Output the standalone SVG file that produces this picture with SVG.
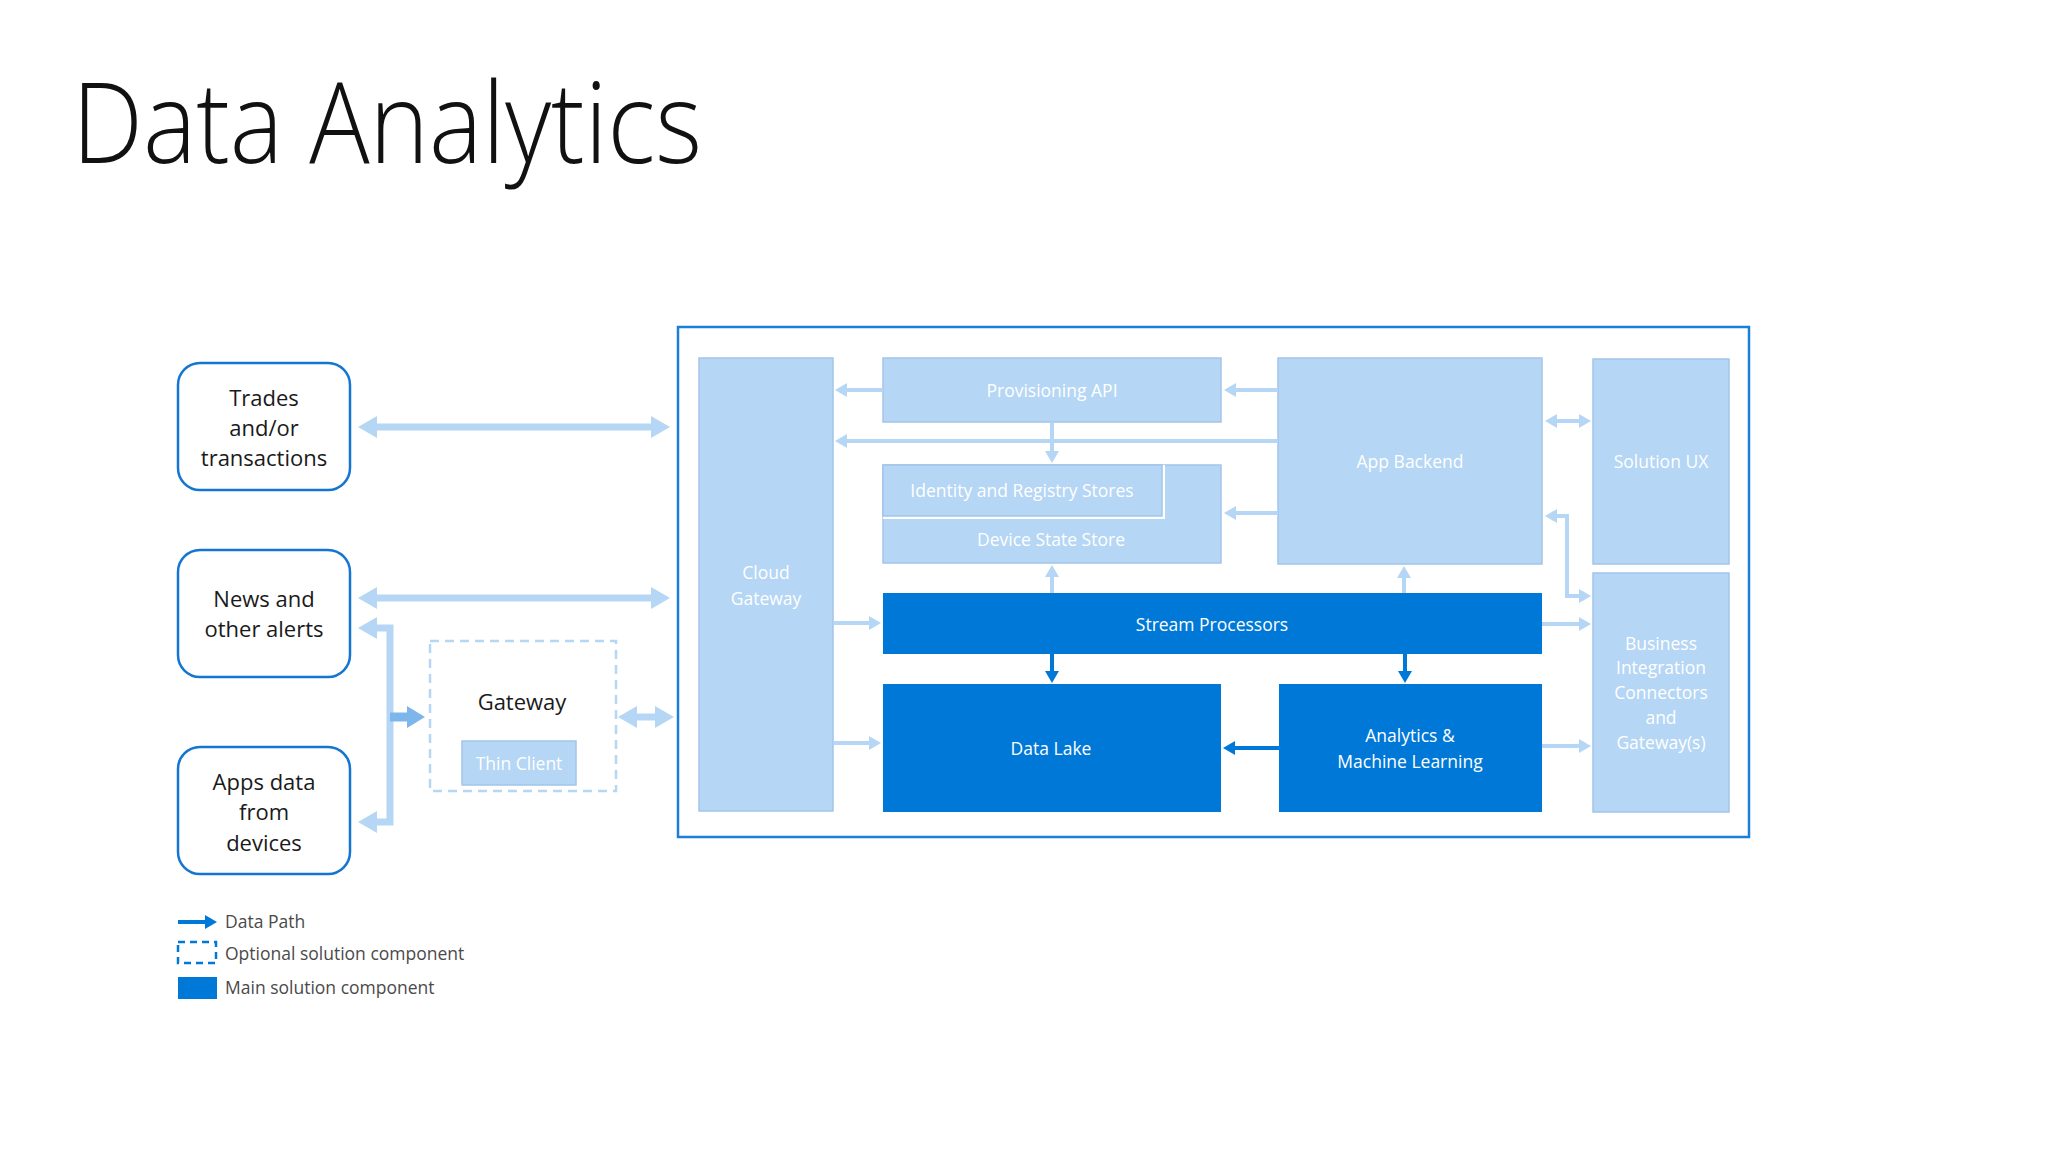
<svg xmlns="http://www.w3.org/2000/svg" width="2048" height="1152" viewBox="0 0 2048 1152">
<defs>
<style>
.bg{fill:#ffffff}
.title{font-family:"Open Sans","Noto Sans",sans-serif;font-weight:300;font-size:112px;fill:#111111}
.src{fill:#ffffff;stroke:#1476d2;stroke-width:2.5}
.srct{font-family:"Open Sans","Noto Sans",sans-serif;font-size:22px;fill:#1a1a1a;text-anchor:middle;dominant-baseline:central}
.lb{fill:#b5d6f4;stroke:#a3c5ea;stroke-width:1.5}
.db{fill:#0078d7}
.wt{font-family:"Open Sans","Noto Sans",sans-serif;font-size:17.5px;fill:#ffffff;text-anchor:middle;dominant-baseline:central}
.cont{fill:none;stroke:#1b7fd5;stroke-width:2.5}
.opt{fill:none;stroke:#b5d6f4;stroke-width:2.5;stroke-dasharray:9 6}
.bigl{fill:none;stroke:#b5d6f4;stroke-width:7}
.sl{fill:none;stroke:#b5d6f4;stroke-width:4}
.dl{fill:none;stroke:#0078d7;stroke-width:4}
.leg{font-family:"Open Sans","Noto Sans",sans-serif;font-size:17.5px;fill:#4a4a4a}
</style>
<marker id="hb" markerUnits="userSpaceOnUse" markerWidth="20" markerHeight="22" refX="0" refY="11" orient="auto-start-reverse" overflow="visible"><path d="M0,0 L19,11 L0,22 z" fill="#b5d6f4"/></marker>
<marker id="hg" markerUnits="userSpaceOnUse" markerWidth="20" markerHeight="22" refX="0" refY="11" orient="auto-start-reverse" overflow="visible"><path d="M0,0 L18,11 L0,22 z" fill="#7db6ea"/></marker>
<marker id="hs" markerUnits="userSpaceOnUse" markerWidth="13" markerHeight="14" refX="0" refY="7" orient="auto-start-reverse" overflow="visible"><path d="M0,0 L12,7 L0,14 z" fill="#b5d6f4"/></marker>
<marker id="hd" markerUnits="userSpaceOnUse" markerWidth="13" markerHeight="14" refX="0" refY="7" orient="auto-start-reverse" overflow="visible"><path d="M0,0 L12,7 L0,14 z" fill="#0078d7"/></marker>
</defs>
<rect class="bg" x="0" y="0" width="2048" height="1152"/>
<text class="title" x="72" y="163" textLength="630" lengthAdjust="spacingAndGlyphs">Data Analytics</text>

<g id="container"><rect class="cont" x="678" y="327" width="1071" height="510"/></g>

<g id="trades"><rect class="src" x="178" y="363" width="172" height="127" rx="22"/>
<text class="srct" x="264" y="397">Trades</text><text class="srct" x="264" y="427">and/or</text><text class="srct" x="264" y="457">transactions</text></g>
<g id="news"><rect class="src" x="178" y="550" width="172" height="127" rx="22"/>
<text class="srct" x="264" y="598">News and</text><text class="srct" x="264" y="628">other alerts</text></g>
<g id="apps"><rect class="src" x="178" y="747" width="172" height="127" rx="22"/>
<text class="srct" x="264" y="781">Apps data</text><text class="srct" x="264" y="811">from</text><text class="srct" x="264" y="842">devices</text></g>

<g id="gateway"><rect class="opt" x="430" y="641" width="186" height="150"/>
<text class="srct" x="522" y="701">Gateway</text></g>
<g id="thin-client"><rect class="lb" x="462" y="741" width="114" height="44"/>
<text class="wt" x="519" y="763">Thin Client</text></g>

<g id="cloud-gateway"><rect class="lb" x="699" y="358" width="134" height="453"/>
<text class="wt" x="766" y="572">Cloud</text><text class="wt" x="766" y="598">Gateway</text></g>
<g id="provisioning-api"><rect class="lb" x="883" y="358" width="338" height="64"/>
<text class="wt" x="1052" y="390">Provisioning API</text></g>
<g id="device-state-store"><rect class="lb" x="883" y="465" width="338" height="98"/>
<text class="wt" x="1051" y="539">Device State Store</text></g>
<g id="identity-registry"><rect x="883" y="465" width="282" height="54" fill="#ffffff"/>
<rect class="lb" x="883" y="465" width="279" height="51"/>
<text class="wt" x="1022" y="490">Identity and Registry Stores</text></g>
<g id="app-backend"><rect class="lb" x="1278" y="358" width="264" height="206"/>
<text class="wt" x="1410" y="461">App Backend</text></g>
<g id="solution-ux"><rect class="lb" x="1593" y="359" width="136" height="205"/>
<text class="wt" x="1661" y="461">Solution UX</text></g>
<g id="business-integration"><rect class="lb" x="1593" y="573" width="136" height="239"/>
<text class="wt" x="1661" y="643">Business</text><text class="wt" x="1661" y="667">Integration</text><text class="wt" x="1661" y="692">Connectors</text><text class="wt" x="1661" y="717">and</text><text class="wt" x="1661" y="742">Gateway(s)</text></g>
<g id="stream-processors"><rect class="db" x="883" y="593" width="659" height="61"/>
<text class="wt" x="1212" y="624">Stream Processors</text></g>
<g id="data-lake"><rect class="db" x="883" y="684" width="338" height="128"/>
<text class="wt" x="1051" y="748">Data Lake</text></g>
<g id="analytics-ml"><rect class="db" x="1279" y="684" width="263" height="128"/>
<text class="wt" x="1410" y="735">Analytics &amp;</text><text class="wt" x="1410" y="761">Machine Learning</text></g>

<g id="connectors">
<line class="bigl" x1="377" y1="427" x2="651" y2="427" marker-start="url(#hb)" marker-end="url(#hb)"/>
<line class="bigl" x1="377" y1="598" x2="651" y2="598" marker-start="url(#hb)" marker-end="url(#hb)"/>
<path class="bigl" d="M377,628 H390 V822 H377" marker-start="url(#hb)" marker-end="url(#hb)"/>
<line x1="390" y1="717" x2="407" y2="717" stroke="#7db6ea" stroke-width="9" marker-end="url(#hg)"/>
<line class="bigl" x1="637" y1="717" x2="655" y2="717" marker-start="url(#hb)" marker-end="url(#hb)"/>

<line class="sl" x1="883" y1="390" x2="847" y2="390" marker-end="url(#hs)"/>
<line class="sl" x1="1278" y1="390" x2="1236" y2="390" marker-end="url(#hs)"/>
<line class="sl" x1="1278" y1="441" x2="847" y2="441" marker-end="url(#hs)"/>
<line class="sl" x1="1052" y1="422" x2="1052" y2="451" marker-end="url(#hs)"/>
<line class="sl" x1="1278" y1="513" x2="1236" y2="513" marker-end="url(#hs)"/>
<line class="sl" x1="1052" y1="593" x2="1052" y2="577" marker-end="url(#hs)"/>
<line class="sl" x1="1404" y1="593" x2="1404" y2="578" marker-end="url(#hs)"/>
<line class="sl" x1="833" y1="623" x2="869" y2="623" marker-end="url(#hs)"/>
<line class="sl" x1="833" y1="743" x2="869" y2="743" marker-end="url(#hs)"/>
<line class="sl" x1="1557" y1="421" x2="1579" y2="421" marker-start="url(#hs)" marker-end="url(#hs)"/>
<path class="sl" d="M1557,516 H1567 V596 H1579" marker-start="url(#hs)" marker-end="url(#hs)"/>
<line class="sl" x1="1542" y1="624" x2="1579" y2="624" marker-end="url(#hs)"/>
<line class="sl" x1="1542" y1="746" x2="1579" y2="746" marker-end="url(#hs)"/>

<line class="dl" x1="1052" y1="654" x2="1052" y2="671" marker-end="url(#hd)"/>
<line class="dl" x1="1405" y1="654" x2="1405" y2="671" marker-end="url(#hd)"/>
<line class="dl" x1="1279" y1="748" x2="1235" y2="748" marker-end="url(#hd)"/>
</g>

<g id="legend">
<line class="dl" x1="178" y1="922" x2="205" y2="922" marker-end="url(#hd)"/>
<text class="leg" x="225" y="928">Data Path</text>
<rect x="178" y="942" width="38" height="21" fill="none" stroke="#0078d7" stroke-width="2.5" stroke-dasharray="7 5"/>
<text class="leg" x="225" y="960">Optional solution component</text>
<rect class="db" x="178" y="977" width="39" height="22"/>
<text class="leg" x="225" y="994">Main solution component</text>
</g>
</svg>
